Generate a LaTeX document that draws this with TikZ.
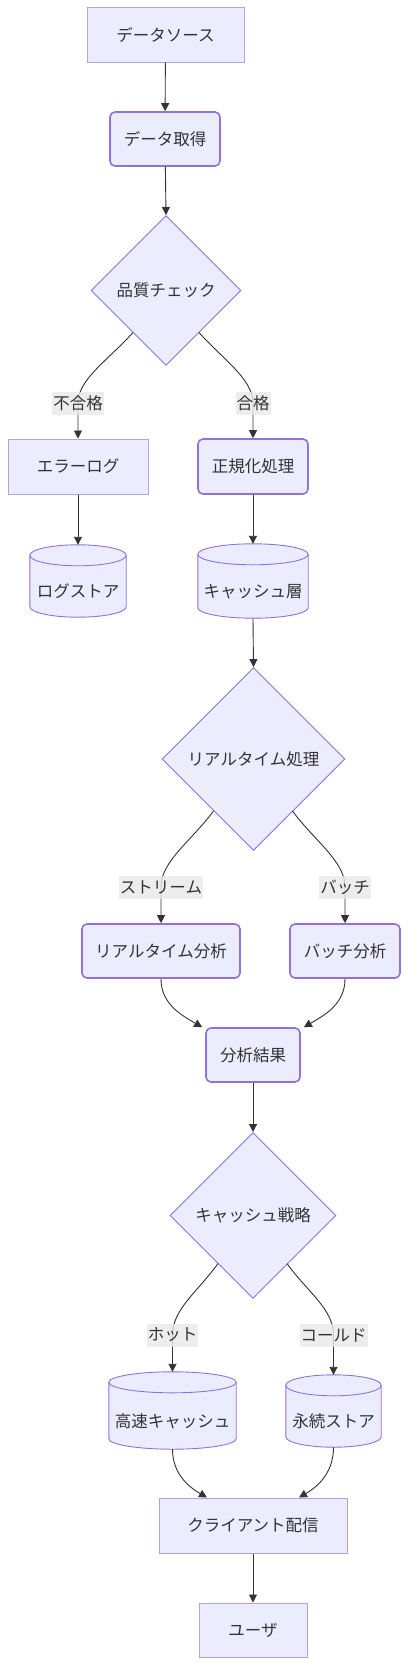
\documentclass[tikz,border=0pt]{standalone}
\usepackage{fontspec}
\setmainfont{Noto Sans CJK JP}
\usetikzlibrary{shapes.geometric,arrows.meta,calc,backgrounds}
\definecolor{nfill}{HTML}{ECECFF}
\definecolor{nstroke}{HTML}{9370DB}
\definecolor{lstroke}{HTML}{B3A1E3}
\definecolor{txt}{HTML}{333333}
\definecolor{lblbg}{HTML}{E8E8E8}
\tikzset{
  base/.style={fill=nfill,text=txt,inner sep=0pt,font=\fontsize{16.5pt}{19pt}\selectfont},
  sharpbox/.style={base,draw=lstroke,line width=1pt,rectangle},
  roundbox/.style={base,draw=nstroke,line width=1.6pt,rectangle,rounded corners=5pt},
  decision/.style={base,draw=nstroke,line width=0.9pt,diamond,aspect=1},
  cylbody/.style={text=txt,inner sep=0pt,font=\fontsize{16.5pt}{19pt}\selectfont},
  edgelbl/.style={fill=lblbg,fill opacity=0.8,text opacity=1,text=txt,inner sep=1pt,minimum height=23pt,font=\fontsize{16.5pt}{19pt}\selectfont},
  edge/.style={draw=txt,line width=0.9pt,-{Triangle[length=8pt,width=8pt]}},
}
\newcommand\cylbg[1]{%
  \path[fill=nfill,draw=nstroke,line width=0.9pt] let \p1=(#1.north west), \p2=(#1.south east), \n1={(\x2-\x1)/2} in
    (\x1,\y1+10.5pt) -- (\x1,\y2+10.5pt) arc[start angle=180,end angle=360,x radius=\n1,y radius=10.5pt]
    -- (\x2,\y1+10.5pt) arc[start angle=0,end angle=180,x radius=\n1,y radius=10.5pt] -- cycle;
  \path[draw=nstroke,line width=0.9pt] let \p1=(#1.north west), \p2=(#1.south east), \n1={(\x2-\x1)/2} in
    (\x1,\y1+10.5pt) arc[start angle=180,end angle=360,x radius=\n1,y radius=10.5pt];
}
\begin{document}
\begin{tikzpicture}[x=1pt,y=1pt]
\useasboundingbox (0,0) rectangle (408,-1665);
% nodes
\node[sharpbox,minimum width=157,minimum height=55] (src) at (165.5,-34.5) {データソース};
\node[roundbox,minimum width=110,minimum height=54] (get) at (165,-139) {データ取得};
\node[decision,minimum size=150] (qc) at (166,-290.5) {品質チェック};
\node[sharpbox,minimum width=140,minimum height=55] (err) at (78,-466.5) {エラーログ};
\node[roundbox,minimum width=110,minimum height=55] (norm) at (253,-466.5) {正規化処理};
\node[cylbody,minimum width=96,minimum height=51] (logst) at (78,-591.5) {ログストア};
\node[cylbody,minimum width=110,minimum height=53] (cache) at (253,-591.5) {キャッシュ層};
\node[decision,minimum size=183] (rt) at (253.5,-759) {リアルタイム処理};
\node[roundbox,minimum width=158,minimum height=54] (rta) at (161,-951) {リアルタイム分析};
\node[roundbox,minimum width=110,minimum height=54] (bta) at (345,-951) {バッチ分析};
\node[roundbox,minimum width=94,minimum height=54] (res) at (253,-1055) {分析結果};
\node[decision,minimum size=166] (cs) at (253,-1215.5) {キャッシュ戦略};
\node[cylbody,minimum width=127,minimum height=56] (hot) at (172.5,-1421) {高速キャッシュ};
\node[cylbody,minimum width=95,minimum height=51] (cold) at (333.5,-1421.5) {永続ストア};
\node[sharpbox,minimum width=188,minimum height=55] (cli) at (253,-1525.5) {クライアント配信};
\node[sharpbox,minimum width=108,minimum height=54] (usr) at (253,-1630) {ユーザ};
\begin{scope}[on background layer]
\cylbg{logst}
\cylbg{cache}
\cylbg{hot}
\cylbg{cold}
\end{scope}
% helper coordinates
\coordinate (qcL) at ($(qc)+(-33,-42)$);
\coordinate (qcR) at ($(qc)+(33,-42)$);
\coordinate (rtL) at ($(rt)+(-40,-52)$);
\coordinate (rtR) at ($(rt)+(39,-52)$);
\coordinate (csL) at ($(cs)+(-35,-48)$);
\coordinate (csR) at ($(cs)+(34,-48)$);
\coordinate (logT) at ($(logst.north)+(0,21)$);
\coordinate (cacheT) at ($(cache.north)+(0,21)$);
\coordinate (hotT) at ($(hot.north)+(0,21)$);
\coordinate (coldT) at ($(cold.north)+(0,21)$);
\coordinate (resL) at ($(res.north west)+(-3,0)$);
\coordinate (resR) at ($(res.north east)+(3,0)$);
\coordinate (cliL) at ($(cli.north)+(-46,0)$);
\coordinate (cliR) at ($(cli.north)+(46,0)$);
% label anchors
\coordinate (l1) at (78,-403);
\coordinate (l2) at (253,-403);
\coordinate (l3) at (161,-887);
\coordinate (l4) at (345,-887);
\coordinate (l5) at (172.5,-1335);
\coordinate (l6) at (333.5,-1335);
% edges
\draw[edge] (src) -- (get);
\draw[edge] (get) -- (qc.north);
\draw[edge] (qcL) .. controls ($(qcL)+(-24,-27)$) and ($(l1)+(0,24)$) .. (l1) -- (err.north);
\draw[edge] (qcR) .. controls ($(qcR)+(24,-27)$) and ($(l2)+(0,24)$) .. (l2) -- (norm.north);
\draw[edge] (err) -- (logT);
\draw[edge] (norm) -- (cacheT);
\draw[edge] (cache.south) -- (rt.north);
\draw[edge] (rtL) .. controls ($(rtL)+(-22,-30)$) and ($(l3)+(0,26)$) .. (l3) -- (rta.north);
\draw[edge] (rtR) .. controls ($(rtR)+(22,-30)$) and ($(l4)+(0,26)$) .. (l4) -- (bta.north);
\draw[edge] (rta.south) to[out=-90,in=150] (resL);
\draw[edge] (bta.south) to[out=-90,in=30] (resR);
\draw[edge] (res) -- (cs.north);
\draw[edge] (csL) .. controls ($(csL)+(-20,-28)$) and ($(l5)+(0,26)$) .. (l5) -- (hotT);
\draw[edge] (csR) .. controls ($(csR)+(20,-28)$) and ($(l6)+(0,26)$) .. (l6) -- (coldT);
\draw[edge] (hot.south) to[out=-90,in=150] (cliL);
\draw[edge] (cold.south) to[out=-90,in=30] (cliR);
\draw[edge] (cli) -- (usr);
% edge labels
\node[edgelbl] (t1) at (l1) {不合格};
\node[edgelbl] (t2) at (l2) {合格};
\node[edgelbl] (t3) at (l3) {ストリーム};
\node[edgelbl] (t4) at (l4) {バッチ};
\node[edgelbl] (t5) at (l5) {ホット};
\node[edgelbl] (t6) at (l6) {コールド};
\end{tikzpicture}
\end{document}
